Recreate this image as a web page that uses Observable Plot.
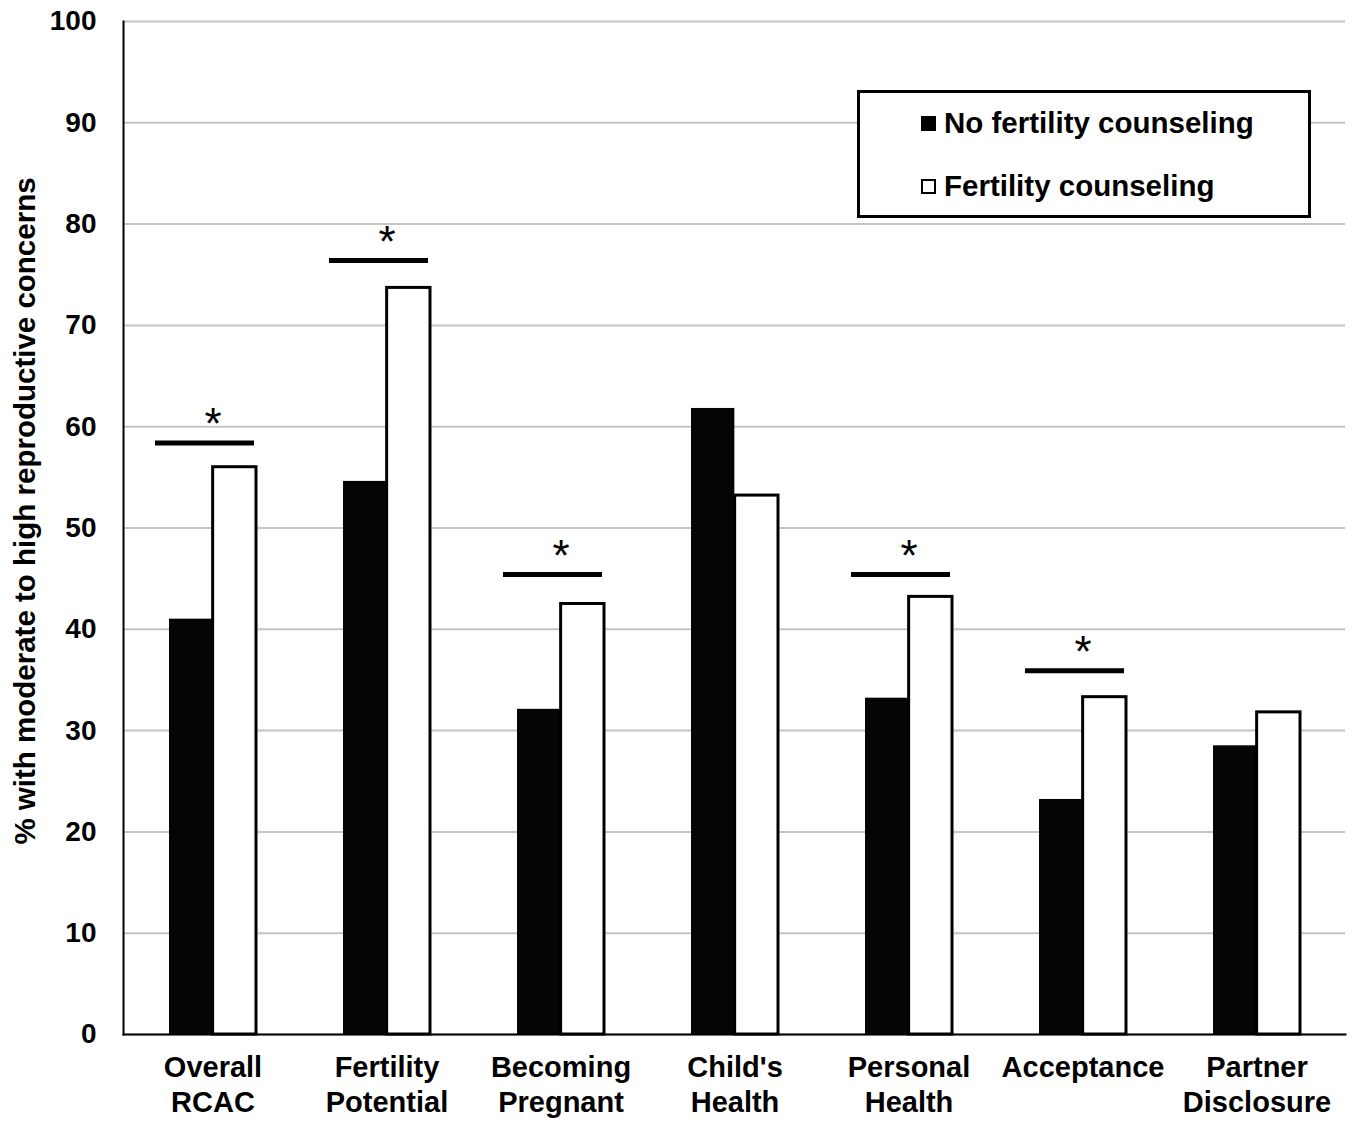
<!DOCTYPE html>
<html>
<head>
<meta charset="utf-8">
<script src="https://cdn.jsdelivr.net/npm/d3@7"></script>
<script src="https://cdn.jsdelivr.net/npm/@observablehq/plot@0.6"></script>
<style>
  html, body { margin: 0; padding: 0; background: #fff; }
  body { font-family: "Liberation Sans", Arial, sans-serif; }
  #wrap { position: relative; width: 1359px; height: 1123px; }
  #legend {
    position: absolute; left: 857px; top: 90px; width: 454px; height: 128px;
    box-sizing: border-box; border: 3px solid #000; background: #fff;
    font-weight: bold; font-size: 29.5px; color: #000;
  }
  #legend .row { position: absolute; left: 61px; display: flex; align-items: center; white-space: nowrap; }
  #legend .sw { width: 15px; height: 15px; box-sizing: border-box; border: 2.5px solid #000; margin-right: 8px; }
</style>
</head>
<body>
<div id="wrap">
  <div id="chart"></div>
  <div id="legend"></div>
</div>
<script>
// ---- data ----
const categories = ["Overall\nRCAC", "Fertility\nPotential", "Becoming\nPregnant", "Child's\nHealth", "Personal\nHealth", "Acceptance", "Partner\nDisclosure"];
const noCounseling = [41.0, 54.6, 32.1, 61.8, 33.2, 23.2, 28.5];
const counseling   = [56.0, 73.7, 42.5, 53.2, 43.2, 33.3, 31.8];
const significance = [58.4, 76.4, 45.4, null, 45.4, 35.9, null];
const seriesNames  = ["No fertility counseling", "Fertility counseling"];
const yTicks = [0, 10, 20, 30, 40, 50, 60, 70, 80, 90, 100];
const yLabel = "% with moderate to high reproductive concerns";

// ---- layout ----
const W = 1359, H = 1123;
const mL = 123, mR = 14, mT = 21, mB = 89;
const step = (W - mL - mR) / categories.length;
const half = step * 0.25; // half of bar-pair width

const rowsA = categories.map((c, i) => ({cat: c, v: noCounseling[i]}));
const rowsB = categories.map((c, i) => ({cat: c, v: counseling[i]}));
const sig = categories.map((c, i) => ({cat: c, v: significance[i]})).filter(d => d.v != null);

const font = "'Liberation Sans', Arial, sans-serif";

const chart = Plot.plot({
  width: W, height: H,
  marginLeft: mL, marginRight: mR, marginTop: mT, marginBottom: mB,
  style: {fontFamily: font, background: "#fff", color: "#000", overflow: "visible"},
  x: {domain: categories, paddingInner: 0.5, paddingOuter: 0.25, label: null},
  y: {domain: [0, 100], ticks: yTicks, label: null},
  marks: [
    Plot.gridY(yTicks, {stroke: "#c4c4c4", strokeOpacity: 1, strokeWidth: 2}),
    Plot.barY(rowsA, {x: "cat", y: "v", fill: "#050505", insetRight: half}),
    Plot.barY(rowsB, {x: "cat", y: "v", fill: "#fff", stroke: "#000", strokeWidth: 3, insetLeft: half}),
    Plot.tickY(sig, {x: "cat", y: "v", stroke: "#000", strokeWidth: 5, insetLeft: -14, insetRight: 2}),
    Plot.text(sig, {x: "cat", y: "v", text: () => "*", fontSize: 44, fontWeight: "normal", dy: -4, lineAnchor: "bottom", fill: "#000"}),
    Plot.frame({anchor: "left", stroke: "#000", strokeWidth: 2}),
    Plot.frame({anchor: "bottom", stroke: "#000", strokeWidth: 2}),
    Plot.axisY({ticks: yTicks, tickSize: 0, tickPadding: 27, fontSize: 28, fontWeight: "bold", label: null}),
    Plot.axisX({tickSize: 0, tickPadding: 18, fontSize: 29, fontWeight: "bold", lineHeight: 1.2, label: null}),
    Plot.text([yLabel], {frameAnchor: "left", textAnchor: "middle", text: d => d, rotate: -90, dx: -98, dy: -17, fontSize: 29.5, fontWeight: "bold", fill: "#000"})
  ]
});
document.getElementById("chart").appendChild(chart);

// ---- legend ----
const legend = document.getElementById("legend");
const fills = ["#000", "#fff"];
const tops = [30 - 20, 93 - 20];
seriesNames.forEach((name, i) => {
  const row = document.createElement("div");
  row.className = "row";
  row.style.top = tops[i] + "px";
  row.style.height = "40px";
  const sw = document.createElement("div");
  sw.className = "sw";
  sw.style.background = fills[i];
  const t = document.createElement("span");
  t.textContent = name;
  row.appendChild(sw); row.appendChild(t);
  legend.appendChild(row);
});
</script>
</body>
</html>
